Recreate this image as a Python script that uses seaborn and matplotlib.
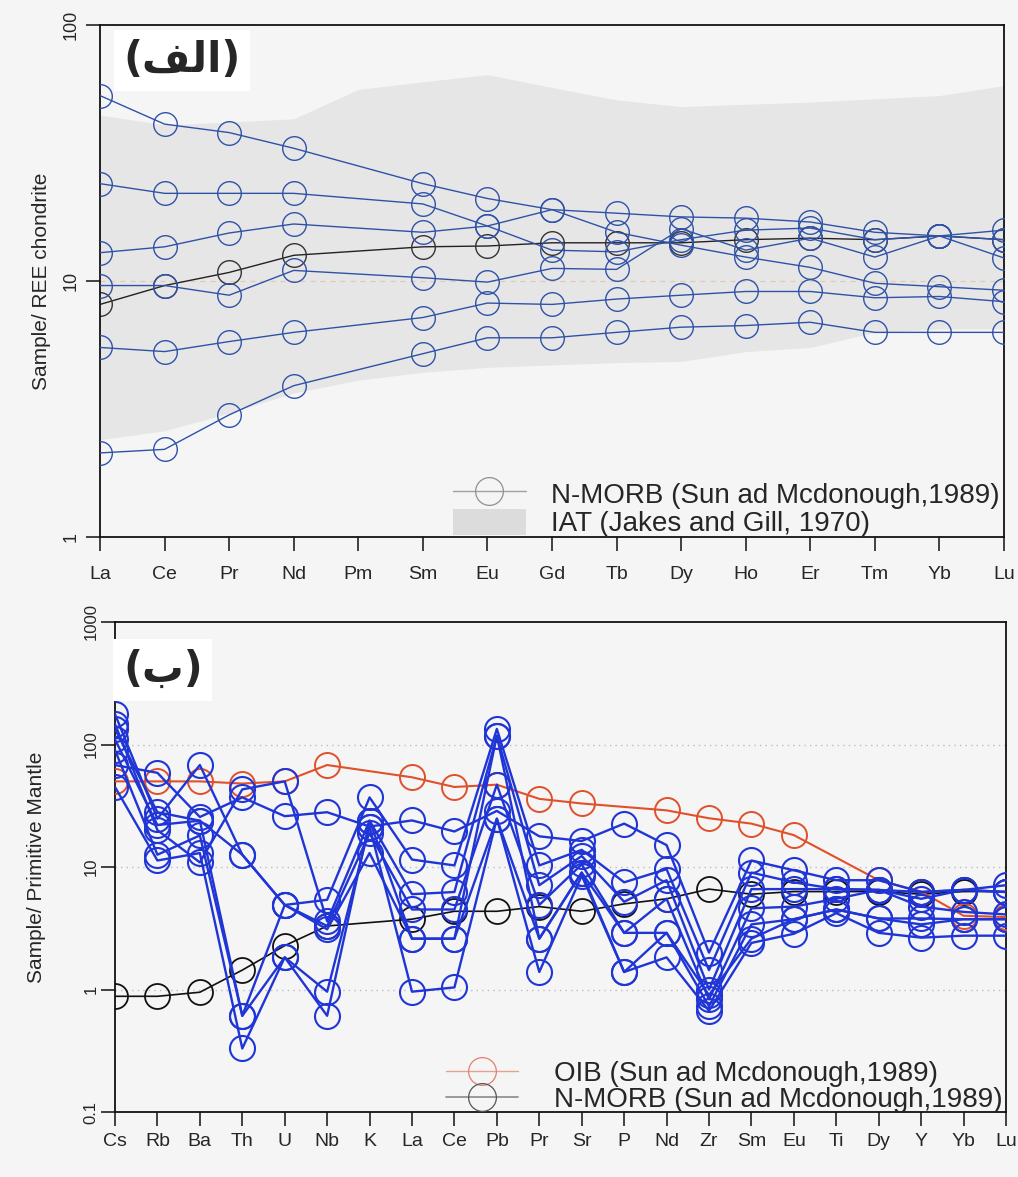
import numpy as np
import pandas as pd
import matplotlib
matplotlib.use("Agg")
import matplotlib.pyplot as plt
import seaborn as sns
from matplotlib.lines import Line2D
from matplotlib.patches import Patch
from matplotlib.ticker import NullLocator

nan = np.nan

# ---------------- Panel A : chondrite-normalised REE ----------------
ree_elements = ["La", "Ce", "Pr", "Nd", "Pm", "Sm", "Eu", "Gd", "Tb", "Dy", "Ho", "Er", "Tm", "Yb", "Lu"]
ree_s1 = [53, 41, 38, 33, nan, 24, 21, 19, 15.5, 13.8, 12.4, 11.3, 9.8, 9.5, 9.2]
ree_s2 = [24, 22, 22, 22, nan, 20, 16.4, 13.2, 13.0, 14.5, 15.8, 16.1, 14.5, 15.0, 14.5]
ree_s3 = [12.9, 13.6, 15.4, 16.7, nan, 15.5, 16.4, 19, 18.4, 17.8, 17.6, 17.0, 15.5, 15.0, 15.8]
ree_s4 = [9.6, 9.6, 8.8, 11.0, nan, 10.3, 9.9, 11.2, 11.1, 16.0, 13.2, 14.7, 12.4, 15.0, 12.3]
ree_s5 = [5.5, 5.3, 5.8, 6.3, nan, 7.2, 8.2, 8.1, 8.5, 8.8, 9.1, 9.1, 8.6, 8.7, 8.3]
ree_s6 = [2.13, 2.2, 3.0, 3.9, nan, 5.2, 6.0, 6.0, 6.3, 6.6, 6.7, 6.9, 6.3, 6.3, 6.3]
ree_nmorb = [8.1, 9.6, 10.8, 12.6, nan, 13.6, 13.7, 14.1, 14.1, 14.1, 14.5, 14.7, 14.5, 15.0, 14.5]
iat_upper = [44.5, 40.7, 41.8, 43, 56, 60, 64, 57, 51, 48, 49, 50, 51.5, 53, 58]
iat_lower = [2.4, 2.6, 3.05, 3.65, 4.1, 4.4, 4.6, 4.7, 4.8, 4.85, 5.3, 5.5, 6.3, 6.5, 6.5]

# ---------------- Panel B : primitive-mantle-normalised spider ----------------
spider_elements = ["Cs", "Rb", "Ba", "Th", "U", "Nb", "K", "La", "Ce", "Pb", "Pr",
                   "Sr", "P", "Nd", "Zr", "Sm", "Eu", "Ti", "Dy", "Y", "Yb", "Lu"]
pm_s1 = [68, 58.7, 25.6, 37, 26, 28, 21.4, 24, 19.5, 28.7, 17.8, 16.3, 22.6, 15.1, 2.0, 11.3, 9.4, 7.8, 7.8, 6.25, 6.5, 7.1]
pm_s2 = [177, 24.8, 68, 12.6, 4.9, 5.4, 37, 11.5, 10.3, 134, 10.3, 13.8, 7.5, 9.6, 1.44, 9.0, 7.5, 6.6, 6.5, 5.5, 6.5, 6.25]
pm_s3 = [147, 20, 10.9, 43, 50, 3.6, 23.9, 6.0, 6.25, 118, 7.1, 12.3, 5.2, 7.8, 1.0, 6.6, 6.6, 6.6, 6.5, 6.25, 6.5, 6.25]
pm_s4 = [134, 28, 23.9, 12.6, 4.9, 3.3, 18.8, 4.5, 4.5, 47, 4.9, 10.5, 2.9, 5.5, 0.83, 4.6, 4.75, 5.5, 6.5, 4.75, 4.3, 4.1]
pm_s5 = [90, 12.6, 18.1, 0.61, 4.9, 3.1, 13.0, 2.6, 2.6, 24.8, 2.6, 9.0, 1.39, 2.9, 0.73, 3.4, 3.75, 4.5, 3.8, 3.8, 3.75, 3.75]
pm_s6 = [45, 11.3, 13.0, 0.33, 1.83, 0.96, 21.4, 0.96, 1.04, 24.8, 1.39, 8.5, 1.39, 1.83, 0.67, 2.4, 2.85, 4.2, 2.9, 2.65, 2.75, 2.75]
pm_s7 = [110, 22, 23.9, 0.61, 1.83, 0.61, 23.9, 2.6, 2.6, 118, 2.6, 9.0, 2.9, 2.9, 0.9, 2.6, 3.75, 4.5, 3.8, 3.4, 3.75, 3.75]
pm_oib = [50, 50, 50, 48, 50, 68, nan, 54, 45, 47, 36, 33, nan, 29, 25, 22.6, 18.2, nan, 7.8, 6.3, 4.0, 3.9]
pm_nmorb = [0.88, 0.88, 0.95, 1.44, 2.28, 3.3, nan, 3.75, 4.35, 4.35, 4.75, 4.35, 5.0, 5.5, 6.6, 6.0, 6.3, 6.3, 6.3, 6.0, 6.3, 6.3]


def long_frame(elements, series_dict):
    rows = []
    for name, vals in series_dict.items():
        for i, (el, v) in enumerate(zip(elements, vals)):
            if not np.isnan(v):
                rows.append({"sample": name, "pos": i, "element": el, "value": v})
    return pd.DataFrame(rows)


ree_samples = long_frame(ree_elements, {"s1": ree_s1, "s2": ree_s2, "s3": ree_s3,
                                        "s4": ree_s4, "s5": ree_s5, "s6": ree_s6})
ree_ref = long_frame(ree_elements, {"nmorb": ree_nmorb})
pm_samples = long_frame(spider_elements, {"s1": pm_s1, "s2": pm_s2, "s3": pm_s3, "s4": pm_s4,
                                          "s5": pm_s5, "s6": pm_s6, "s7": pm_s7})
pm_oib_df = long_frame(spider_elements, {"oib": pm_oib})
pm_nmorb_df = long_frame(spider_elements, {"nmorb": pm_nmorb})

sns.set_theme(style="ticks")
plt.rcParams["font.family"] = ["Liberation Sans Narrow", "Liberation Sans", "DejaVu Sans"]
plt.rcParams["axes.linewidth"] = 1.3

BG = "#f5f5f5"
fig = plt.figure(figsize=(10.18, 11.77), dpi=100, facecolor=BG)
axA = fig.add_axes([100 / 1018, 1 - 537 / 1177, (1004 - 100) / 1018, (537 - 25) / 1177])
axB = fig.add_axes([115 / 1018, 1 - 1112 / 1177, (1006 - 115) / 1018, (1112 - 622) / 1177])

for ax in (axA, axB):
    ax.set_facecolor(BG)
    for s in ax.spines.values():
        s.set_color("#111111")
        s.set_linewidth(1.3)

# ---- panel A ----
xA = np.arange(len(ree_elements))
axA.fill_between(xA, iat_lower, iat_upper, color="#e6e6e6", lw=0, zorder=1)
axA.axhline(10, color="#e2c9b4", lw=0.9, ls=(0, (4, 4)), zorder=1.5)
sns.lineplot(data=ree_samples, x="pos", y="value", units="sample", estimator=None,
             color="#2f52a8", lw=1.0, marker="o", markersize=17, markerfacecolor="none",
             markeredgecolor="#2f52a8", markeredgewidth=1.0, ax=axA, zorder=3, sort=True)
sns.lineplot(data=ree_ref, x="pos", y="value", estimator=None, color="#222222", lw=1.0,
             marker="o", markersize=17, markerfacecolor="none", markeredgecolor="#333333",
             markeredgewidth=1.0, ax=axA, zorder=2.5)
axA.set_yscale("log")
axA.set_ylim(1, 100)
axA.set_xlim(0, len(ree_elements) - 1)
axA.set_yticks([1, 10, 100])
axA.set_yticklabels(["1", "10", "100"], rotation=90, va="center")
axA.yaxis.set_minor_locator(NullLocator())
axA.set_xticks(xA)
axA.set_xticklabels(ree_elements)
axA.set_xlabel("")
axA.set_ylabel("Sample/ REE chondrite", fontsize=15, labelpad=8)
axA.tick_params(axis="x", length=10, width=1.2, pad=11, labelsize=14, color="#222222")
axA.tick_params(axis="y", length=10, width=1.2, pad=5, labelsize=13, color="#222222")

hA = [Line2D([0], [0], color="#a0a0a0", lw=1.0, marker="o", markersize=20,
             markerfacecolor="none", markeredgecolor="#909090", markeredgewidth=0.9),
      Patch(facecolor="#dcdcdc", edgecolor="none")]
legA = axA.legend(hA, ["N-MORB (Sun ad Mcdonough,1989)", "IAT (Jakes and Gill, 1970)"],
                  loc="lower right", bbox_to_anchor=(1.01, -0.028), frameon=False, fontsize=20,
                  handlelength=2.6, handleheight=1.1, handletextpad=0.9, labelspacing=0.0,
                  borderaxespad=0.1)
axA.text(0.026, 0.972, "(\uFED2\uFEDF\uFE8D)", transform=axA.transAxes, ha="left", va="top",
         fontsize=30, fontweight="bold", family=["DejaVu Sans"], zorder=6,
         bbox=dict(facecolor="white", edgecolor="none", pad=7))

# ---- panel B ----
xB = np.arange(len(spider_elements))
for g in (1, 10, 100):
    axB.axhline(g, color="#bdbdbd", lw=1.0, ls=(0, (1, 3)), zorder=1)
sns.lineplot(data=pm_samples, x="pos", y="value", units="sample", estimator=None,
             color="#1f35d6", lw=1.7, marker="o", markersize=18, markerfacecolor="none",
             markeredgecolor="#1f35d6", markeredgewidth=1.5, ax=axB, zorder=3)
sns.lineplot(data=pm_nmorb_df, x="pos", y="value", estimator=None, color="#111111", lw=1.2,
             marker="o", markersize=18, markerfacecolor="none", markeredgecolor="#111111",
             markeredgewidth=1.3, ax=axB, zorder=2.5)
sns.lineplot(data=pm_oib_df, x="pos", y="value", estimator=None, color="#e0502a", lw=1.5,
             marker="o", markersize=18, markerfacecolor="none", markeredgecolor="#e0502a",
             markeredgewidth=1.4, ax=axB, zorder=2.7)
axB.set_yscale("log")
axB.set_ylim(0.1, 1000)
axB.set_xlim(0, len(spider_elements) - 1)
axB.set_yticks([0.1, 1, 10, 100, 1000])
axB.set_yticklabels(["0.1", "1", "10", "100", "1000"], rotation=90, va="center")
axB.yaxis.set_minor_locator(NullLocator())
axB.set_xticks(xB)
axB.set_xticklabels(spider_elements)
axB.set_xlabel("")
axB.set_ylabel("Sample/ Primitive Mantle", fontsize=15, labelpad=27)
axB.tick_params(axis="x", length=10, width=1.2, pad=5, labelsize=14, color="#222222")
axB.tick_params(axis="y", length=10, width=1.2, pad=2, labelsize=12, color="#222222")

hB = [Line2D([0], [0], color="#e8a090", lw=1.0, marker="o", markersize=20,
             markerfacecolor="none", markeredgecolor="#e08070", markeredgewidth=0.9),
      Line2D([0], [0], color="#8a8a8a", lw=1.2, marker="o", markersize=20,
             markerfacecolor="none", markeredgecolor="#555555", markeredgewidth=0.9)]
legB = axB.legend(hB, ["OIB (Sun ad Mcdonough,1989)", "N-MORB (Sun ad Mcdonough,1989)"],
                  loc="lower right", bbox_to_anchor=(1.012, -0.03), frameon=False, fontsize=20,
                  handlelength=2.6, handletextpad=1.3, labelspacing=0.0, borderaxespad=0.1)
axB.text(0.009, 0.945, "(\uFE8F)", transform=axB.transAxes, ha="left", va="top",
         fontsize=30, fontweight="bold", family=["DejaVu Sans"], zorder=6,
         bbox=dict(facecolor="white", edgecolor="none", pad=7))

fig.savefig("out.png", dpi=100, facecolor=BG)
